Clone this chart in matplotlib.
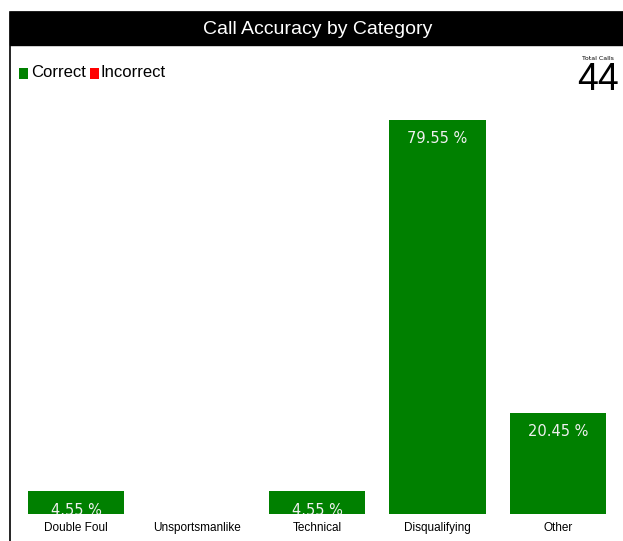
import matplotlib
matplotlib.use("Agg")
from matplotlib import pyplot as plt
from matplotlib.patches import Rectangle

categories = ["Double Foul", "Unsportsmanlike", "Technical", "Disqualifying", "Other"]
correct = [4.55, 0, 4.55, 79.55, 20.45]
incorrect = [0, 0, 0, 0, 0]
legend_labels = ["Correct", "Incorrect"]
legend_colors = ["#008000", "#ff0000"]
total_calls = 44
title = "Call Accuracy by Category"

W, H = 623, 541
fig = plt.figure(figsize=(W / 100, H / 100), dpi=100)

def fx(px):
    return px / W

def fy(py):
    return 1 - py / H

# outer frame and black title bar
fig.patches.append(Rectangle((fx(9.5), fy(545)), fx(620), fy(12) - fy(545),
                             transform=fig.transFigure, fill=False,
                             edgecolor="black", lw=1.2))
fig.patches.append(Rectangle((fx(9.5), fy(45)), fx(620), fy(12) - fy(45),
                             transform=fig.transFigure, facecolor="black",
                             edgecolor="black"))
fig.text(fx(318), fy(30), title, color="white", ha="center", va="center",
         fontsize=14, family="Liberation Sans")

# legend
fig.patches.append(Rectangle((fx(19), fy(79)), fx(9), fy(68) - fy(79),
                             transform=fig.transFigure, facecolor=legend_colors[0]))
fig.text(fx(31), fy(73), legend_labels[0], ha="left", va="center", fontsize=12,
         family="Liberation Sans")
fig.patches.append(Rectangle((fx(90), fy(79)), fx(9), fy(68) - fy(79),
                             transform=fig.transFigure, facecolor=legend_colors[1]))
fig.text(fx(101), fy(73), legend_labels[1], ha="left", va="center", fontsize=12,
         family="Liberation Sans")

# total calls
fig.text(fx(598), fy(58), "Total Calls", ha="center", va="center", fontsize=4.5)
fig.text(fx(598), fy(80), str(total_calls), ha="center", va="center", fontsize=27,
         family="Liberation Sans")

ax = fig.add_axes([fx(16), fy(514), fx(618) - fx(16), fy(95) - fy(514)])
x = range(len(categories))
ax.bar(x, correct, width=0.8, color=legend_colors[0])
ax.bar(x, incorrect, bottom=correct, width=0.8, color=legend_colors[1])
ax.set_xlim(-0.5, len(categories) - 0.5)
ax.set_ylim(0, 84.6)
for i, v in enumerate(correct):
    if v > 0:
        ax.text(i, v - 2.3, "%.2f %%" % v, ha="center", va="top",
                color="#f0f0f0", fontsize=10.5, clip_on=True)
ax.set_xticks(list(x))
ax.set_xticklabels(categories, fontsize=8.5, family="Liberation Sans")
ax.tick_params(axis="x", length=0, pad=6)
ax.set_yticks([])
for s in ax.spines.values():
    s.set_visible(False)

plt.savefig("out.png", dpi=100)
